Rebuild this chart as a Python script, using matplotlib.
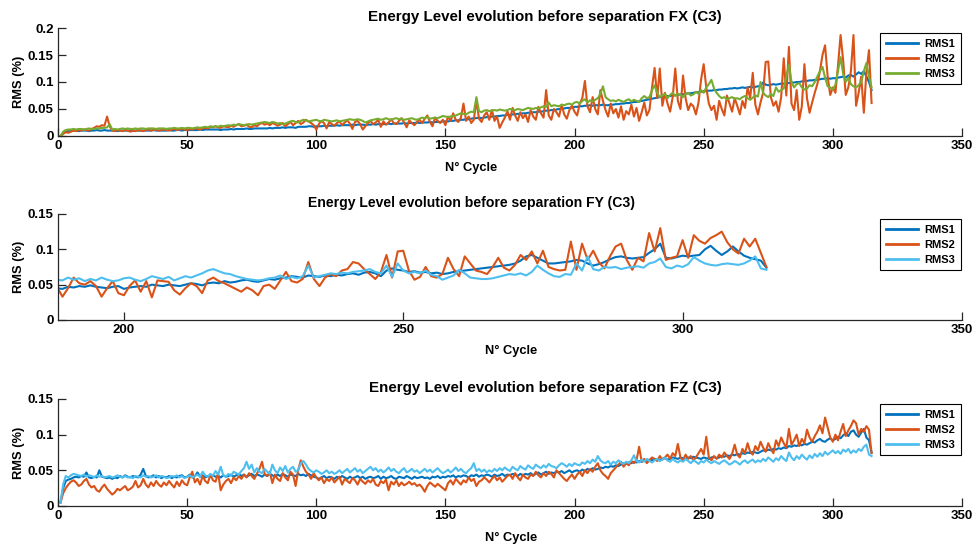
import numpy as np
import matplotlib
matplotlib.use("Agg")
from matplotlib import pyplot as plt
from matplotlib.ticker import FuncFormatter

plt.rcParams['font.family'] = ['Liberation Sans', 'DejaVu Sans']
plt.rcParams['font.weight'] = 'bold'

# values are in thousandths of a percent (x 0.001)

# ---- FX, cycles 1..315
fx_rms1 = [0, 5, 8, 9, 9, 10, 10, 9, 10, 10, 10, 9, 10, 10, 11, 10, 10, 11, 10, 10,
           10, 10, 9, 10, 10, 10, 10, 10, 9, 10, 10, 10, 10, 10, 10, 10, 11, 10, 10, 10,
           10, 10, 11, 10, 10, 11, 11, 10, 11, 11, 11, 11, 11, 11, 12, 11, 12, 12, 12, 12,
           12, 12, 11, 12, 12, 12, 13, 12, 13, 13, 13, 13, 14, 13, 13, 14, 14, 14, 14, 14,
           14, 15, 14, 15, 15, 15, 16, 15, 16, 16, 16, 15, 17, 17, 17, 17, 18, 18, 17, 18,
           18, 18, 19, 18, 19, 19, 19, 20, 19, 20, 20, 20, 20, 21, 20, 21, 21, 21, 20, 21,
           21, 22, 21, 22, 22, 22, 22, 23, 22, 23, 23, 23, 23, 24, 23, 24, 24, 24, 25, 24,
           25, 25, 25, 26, 25, 26, 26, 26, 27, 27, 27, 28, 28, 29, 29, 30, 30, 31, 31, 32,
           33, 33, 34, 33, 34, 35, 35, 36, 36, 37, 37, 38, 38, 39, 39, 40, 40, 41, 41, 42,
           42, 43, 43, 44, 44, 45, 45, 46, 47, 47, 48, 48, 49, 50, 50, 51, 52, 52, 53, 54,
           54, 55, 55, 56, 56, 57, 56, 57, 57, 57, 58, 57, 57, 58, 58, 59, 59, 60, 60, 61,
           61, 62, 63, 63, 64, 65, 66, 67, 68, 69, 70, 71, 72, 72, 73, 74, 74, 75, 76, 76,
           77, 77, 78, 79, 79, 80, 81, 81, 82, 83, 83, 84, 84, 85, 85, 86, 86, 87, 87, 88,
           88, 89, 88, 89, 90, 89, 90, 91, 90, 91, 92, 93, 99, 95, 94, 95, 96, 95, 96, 97,
           97, 98, 98, 99, 99, 100, 100, 101, 102, 102, 103, 103, 104, 104, 105, 106, 106, 107, 106, 107,
           107, 108, 109, 110, 108, 112, 113, 110, 114, 118, 115, 120, 110, 100, 85]
fx_rms2 = [0, 4, 7, 6, 8, 10, 9, 11, 10, 12, 11, 10, 13, 15, 18, 17, 20, 19, 36, 18,
           10, 9, 11, 10, 9, 11, 10, 8, 10, 9, 11, 10, 9, 11, 12, 10, 11, 12, 10, 11,
           12, 11, 10, 12, 13, 11, 12, 13, 12, 11, 13, 12, 14, 13, 12, 14, 15, 14, 17, 16,
           18, 16, 15, 18, 17, 16, 19, 17, 20, 22, 18, 19, 21, 17, 16, 20, 18, 22, 24, 21,
           23, 20, 24, 22, 19, 21, 24, 18, 22, 26, 20, 24, 28, 22, 25, 30, 27, 24, 20, 12,
           22, 28, 24, 14, 26, 22, 19, 24, 27, 20, 25, 29, 23, 13, 26, 28, 22, 12, 18, 24,
           28, 22, 25, 30, 17, 27, 21, 25, 31, 24, 22, 28, 33, 25, 16, 29, 24, 20, 26, 30,
           24, 32, 38, 26, 18, 34, 28, 24, 30, 20, 36, 28, 42, 30, 26, 34, 60, 28, 36, 24,
           30, 66, 32, 26, 38, 44, 30, 48, 28, 36, 15, 25, 34, 46, 30, 52, 38, 28, 44, 33,
           40, 26, 48, 36, 30, 54, 42, 34, 85, 38, 30, 50, 44, 36, 58, 40, 32, 48, 56, 45,
           38, 60, 70, 102, 55, 44, 72, 50, 40, 85, 65, 48, 36, 60, 42, 50, 34, 55, 30, 46,
           40, 58, 36, 52, 28, 44, 62, 38, 48, 90, 126, 70, 125, 56, 80, 60, 45, 72, 125, 65,
           50, 112, 70, 48, 60, 55, 40, 62, 105, 133, 90, 60, 48, 56, 30, 65, 50, 38, 75, 60,
           45, 70, 56, 40, 65, 52, 90, 70, 117, 58, 40, 62, 80, 137, 138, 72, 56, 64, 45, 72,
           144, 75, 165, 60, 48, 85, 30, 55, 133, 70, 43, 62, 80, 96, 120, 150, 168, 110, 76, 90,
           80, 130, 187, 140, 76, 90, 120, 187, 56, 80, 110, 43, 118, 159, 61]
fx_rms3 = [0, 8, 11, 12, 12, 13, 12, 13, 13, 12, 13, 14, 13, 13, 14, 14, 15, 15, 16, 22,
           12, 13, 12, 13, 14, 13, 14, 13, 13, 14, 13, 14, 14, 13, 14, 14, 14, 13, 14, 14,
           14, 13, 14, 14, 15, 14, 14, 15, 14, 15, 15, 14, 15, 16, 15, 16, 17, 16, 18, 17,
           18, 17, 19, 18, 19, 20, 19, 21, 20, 22, 21, 20, 21, 22, 21, 22, 23, 24, 25, 26,
           25, 24, 26, 25, 23, 24, 22, 23, 25, 27, 28, 26, 25, 28, 30, 29, 27, 28, 29, 30,
           28, 27, 30, 29, 28, 27, 28, 29, 27, 28, 29, 30, 31, 30, 30, 31, 30, 28, 25, 27,
           29, 30, 31, 32, 30, 31, 33, 31, 30, 32, 33, 31, 32, 30, 31, 32, 33, 31, 30, 32,
           34, 33, 35, 32, 33, 34, 33, 35, 37, 36, 35, 36, 37, 38, 40, 42, 41, 40, 43, 45,
           44, 72, 46, 44, 47, 48, 46, 47, 48, 47, 49, 48, 47, 48, 50, 49, 48, 50, 49, 48,
           50, 52, 51, 50, 52, 51, 53, 55, 54, 62, 55, 57, 56, 55, 58, 57, 59, 60, 58, 62,
           63, 60, 65, 68, 62, 66, 64, 67, 70, 78, 92, 72, 68, 65, 66, 64, 67, 65, 63, 66,
           68, 64, 67, 65, 63, 70, 74, 70, 72, 85, 94, 80, 72, 75, 78, 70, 76, 80, 74, 78,
           76, 72, 78, 80, 75, 77, 82, 78, 85, 80, 90, 96, 104, 88, 80, 74, 70, 72, 68, 70,
           72, 69, 70, 68, 72, 74, 70, 67, 71, 75, 73, 100, 80, 75, 72, 78, 74, 90, 82, 85,
           88, 110, 132, 100, 90, 96, 98, 90, 86, 88, 94, 92, 100, 110, 120, 128, 108, 92, 90, 86,
           95, 120, 146, 115, 100, 108, 96, 92, 90, 94, 100, 120, 135, 110, 90]

# ---- FY, cycles 187..315
fy_rms1 = [46, 45, 44, 47, 46, 48, 47, 49, 47, 46, 45, 47, 48, 44, 46, 47, 48, 47, 50, 49,
           48, 50, 49, 48, 50, 52, 51, 49, 52, 53, 52, 55, 53, 54, 56, 57, 55, 54, 56, 58,
           57, 59, 60, 62, 61, 60, 63, 62, 61, 63, 62, 64, 63, 65, 66, 64, 67, 68, 66, 62,
           70, 73, 71, 70, 68, 69, 67, 68, 66, 67, 65, 66, 68, 69, 70, 71, 72, 73, 74, 75,
           76, 77, 78, 80, 84, 90, 92, 88, 84, 80, 80, 81, 82, 83, 85, 84, 80, 77, 79, 82,
           86, 89, 90, 88, 87, 88, 89, 95, 100, 108, 88, 87, 89, 91, 90, 91, 92, 100, 105, 98,
           92, 97, 104, 97, 91, 88, 86, 84, 74]
fy_rms2 = [50, 47, 33, 45, 60, 52, 50, 55, 48, 33, 45, 55, 38, 35, 48, 56, 40, 55, 32, 56,
           55, 54, 42, 36, 45, 52, 48, 38, 56, 60, 55, 52, 48, 44, 40, 46, 42, 35, 48, 50,
           44, 56, 68, 55, 53, 58, 82, 58, 48, 60, 65, 62, 70, 72, 82, 80, 72, 65, 58, 68,
           92, 60, 97, 98, 70, 57, 61, 75, 62, 60, 65, 88, 72, 62, 90, 80, 70, 68, 65, 75,
           88, 74, 70, 78, 92, 85, 97, 80, 98, 75, 72, 70, 71, 111, 71, 108, 85, 98, 82, 73,
           90, 104, 108, 85, 71, 88, 83, 123, 97, 130, 85, 88, 90, 113, 88, 120, 112, 108, 116, 120,
           125, 110, 100, 94, 115, 104, 115, 95, 75]
fy_rms3 = [58, 57, 56, 60, 57, 59, 55, 58, 56, 60, 57, 55, 56, 59, 60, 57, 55, 58, 62, 60,
           58, 61, 56, 59, 62, 60, 63, 66, 70, 72, 69, 66, 65, 62, 60, 58, 57, 56, 57, 59,
           60, 63, 58, 61, 59, 62, 77, 60, 62, 64, 66, 65, 67, 66, 68, 69, 70, 72, 68, 66,
           77, 61, 80, 70, 66, 68, 66, 70, 64, 62, 57, 60, 63, 71, 66, 60, 59, 58, 58, 59,
           61, 63, 65, 64, 66, 63, 68, 77, 71, 66, 62, 61, 65, 64, 80, 70, 90, 72, 70, 75,
           74, 75, 72, 74, 75, 76, 74, 80, 82, 87, 75, 73, 77, 75, 79, 89, 84, 80, 78, 77,
           79, 80, 79, 78, 80, 84, 90, 73, 71]

# ---- FZ, cycles 1..315
fz_rms1 = [5, 25, 35, 37, 38, 40, 41, 40, 42, 41, 47, 40, 39, 41, 40, 50, 41, 40, 39, 40,
           38, 40, 39, 42, 40, 43, 41, 40, 42, 41, 40, 44, 52, 42, 40, 41, 43, 40, 42, 39,
           41, 40, 42, 39, 41, 40, 42, 43, 40, 41, 44, 40, 42, 47, 41, 43, 40, 42, 41, 43,
           41, 42, 40, 43, 41, 42, 44, 41, 43, 45, 42, 44, 41, 43, 45, 42, 44, 43, 41, 44,
           42, 45, 43, 41, 44, 42, 45, 43, 41, 44, 43, 42, 45, 43, 44, 42, 45, 43, 41, 40,
           38, 40, 42, 39, 41, 40, 38, 41, 39, 42, 40, 38, 41, 39, 40, 42, 39, 41, 38, 40,
           41, 39, 40, 42, 38, 41, 39, 40, 42, 39, 38, 41, 40, 39, 42, 40, 38, 41, 39, 40,
           41, 39, 40, 38, 41, 40, 42, 39, 41, 40, 42, 41, 43, 40, 42, 41, 43, 42, 40, 43,
           42, 44, 41, 43, 42, 44, 43, 41, 44, 42, 43, 45, 42, 44, 43, 45, 44, 42, 45, 43,
           45, 44, 46, 43, 45, 47, 44, 46, 48, 45, 47, 46, 48, 47, 49, 46, 48, 50, 47, 49,
           50, 48, 51, 49, 52, 50, 53, 51, 52, 54, 53, 55, 54, 56, 55, 57, 56, 58, 60, 59,
           61, 60, 62, 61, 63, 62, 64, 63, 65, 64, 66, 65, 64, 66, 67, 65, 66, 68, 67, 66,
           68, 67, 66, 68, 67, 69, 68, 67, 66, 68, 67, 66, 68, 69, 67, 68, 70, 69, 71, 70,
           72, 71, 73, 72, 74, 73, 75, 74, 76, 75, 74, 76, 78, 77, 79, 78, 80, 79, 81, 80,
           82, 81, 84, 83, 85, 84, 86, 85, 87, 86, 88, 90, 89, 92, 94, 91, 90, 93, 95, 92,
           94, 97, 95, 99, 102, 98, 104, 106, 100, 97, 103, 108, 96, 92, 75]
fz_rms2 = [5, 18, 25, 30, 34, 36, 33, 28, 30, 35, 38, 30, 26, 28, 22, 20, 26, 30, 24, 20,
           16, 19, 24, 22, 25, 28, 22, 24, 27, 35, 26, 29, 38, 30, 26, 33, 28, 35, 30, 27,
           33, 29, 35, 30, 26, 34, 28, 36, 31, 29, 40, 48, 33, 38, 30, 42, 35, 32, 44, 36,
           34, 46, 22, 30, 35, 38, 32, 40, 36, 42, 38, 44, 40, 46, 42, 38, 45, 52, 62, 45,
           42, 48, 32, 44, 38, 35, 46, 40, 36, 48, 44, 28, 50, 64, 55, 48, 44, 38, 46, 40,
           36, 40, 32, 38, 35, 40, 33, 37, 41, 30, 38, 35, 32, 39, 36, 30, 38, 34, 31, 36,
           33, 38, 30, 28, 35, 32, 37, 22, 34, 30, 36, 28, 33, 29, 31, 34, 30, 32, 28, 30,
           26, 20, 28, 33, 30, 27, 31, 28, 25, 22, 32, 36, 30, 38, 34, 30, 36, 33, 40, 35,
           38, 28, 34, 36, 40, 37, 33, 38, 42, 36, 40, 34, 38, 42, 44, 38, 46, 40, 36, 44,
           40, 38, 44, 42, 48, 43, 40, 46, 42, 48, 45, 40, 50, 46, 42, 38, 35, 40, 44, 38,
           44, 48, 42, 50, 46, 52, 48, 55, 60, 50, 45, 42, 38, 46, 50, 54, 58, 62, 55, 60,
           57, 63, 60, 64, 83, 62, 66, 60, 64, 68, 66, 63, 70, 65, 68, 72, 66, 74, 70, 87,
           68, 64, 72, 66, 70, 64, 68, 74, 80, 72, 97, 68, 64, 70, 66, 72, 68, 75, 70, 66,
           73, 86, 72, 68, 80, 74, 88, 76, 72, 84, 78, 90, 82, 76, 88, 80, 74, 92, 84, 96,
           88, 82, 108, 86, 92, 100, 84, 94, 88, 107, 96, 90, 98, 104, 113, 102, 124, 110, 96, 90,
           100, 92, 104, 115, 98, 106, 112, 120, 116, 100, 108, 104, 112, 107, 74]
fz_rms3 = [5, 30, 42, 40, 43, 45, 44, 43, 42, 44, 41, 43, 42, 40, 43, 41, 42, 40, 41, 42,
           40, 41, 43, 41, 40, 42, 40, 41, 39, 42, 41, 40, 43, 41, 42, 40, 41, 43, 40, 42,
           41, 39, 40, 42, 41, 43, 40, 42, 39, 41, 43, 40, 42, 44, 41, 48, 43, 41, 45, 42,
           49, 44, 55, 43, 41, 45, 42, 48, 46, 44, 49, 53, 62, 52, 58, 47, 53, 48, 46, 52,
           48, 45, 58, 50, 46, 54, 49, 56, 47, 52, 55, 48, 50, 60, 63, 58, 52, 49, 47, 50,
           48, 45, 47, 50, 46, 48, 45, 47, 50, 46, 49, 52, 47, 50, 53, 48, 51, 46, 49, 52,
           55, 50, 53, 48, 51, 47, 50, 54, 49, 52, 48, 46, 50, 53, 47, 49, 52, 48, 50, 46,
           49, 52, 48, 51, 47, 50, 53, 49, 46, 48, 51, 47, 50, 54, 49, 52, 48, 46, 50, 53,
           60, 49, 52, 48, 51, 47, 50, 48, 52, 49, 53, 50, 54, 51, 49, 55, 52, 50, 56, 53,
           51, 57, 54, 52, 58, 55, 53, 57, 54, 59, 56, 55, 53, 57, 60, 58, 55, 59, 56, 60,
           58, 57, 61, 59, 63, 60, 65, 62, 70, 64, 61, 60, 63, 58, 62, 60, 64, 61, 59, 62,
           60, 64, 71, 63, 61, 65, 62, 66, 63, 61, 64, 66, 63, 65, 68, 64, 62, 66, 63, 61,
           64, 62, 66, 63, 60, 64, 62, 59, 63, 61, 65, 62, 60, 63, 61, 59, 62, 64, 61, 58,
           60, 63, 61, 58, 62, 64, 60, 63, 65, 61, 64, 62, 66, 63, 68, 65, 62, 67, 64, 70,
           66, 63, 75, 68, 64, 70, 66, 72, 68, 65, 71, 67, 73, 69, 74, 70, 76, 72, 75, 78,
           74, 77, 73, 79, 76, 80, 74, 78, 75, 80, 77, 83, 86, 72, 70]

panels = [
    ("Energy Level evolution before separation FX (C3)", 1,
     [fx_rms1, fx_rms2, fx_rms3], ['#0072BD', '#D95319', '#77AC30'],
     (0, 350), [0, 50, 100, 150, 200, 250, 300, 350], (0, 0.2), [0, 0.05, 0.1, 0.15, 0.2],
     [0.0593, 0.7514, 0.9243, 0.1974], 0.539, 10.9, 0.457, 7),
    ("Energy Level evolution before separation FY (C3)", 187,
     [fy_rms1, fy_rms2, fy_rms3], ['#0072BD', '#D95319', '#4DBEEE'],
     (188.2, 350), [200, 250, 300, 350], (0, 0.15), [0, 0.05, 0.1, 0.15],
     [0.0593, 0.415, 0.9243, 0.1938], 0.457, 10.1, 0.501, 6),
    ("Energy Level evolution before separation FZ (C3)", 1,
     [fz_rms1, fz_rms2, fz_rms3], ['#0072BD', '#D95319', '#4DBEEE'],
     (0, 350), [0, 50, 100, 150, 200, 250, 300, 350], (0, 0.15), [0, 0.05, 0.1, 0.15],
     [0.0593, 0.075, 0.9243, 0.1956], 0.539, 10.9, 0.501, 7),
]
labels = ['RMS1', 'RMS2', 'RMS3']

fig = plt.figure(figsize=(9.78, 5.47), dpi=100)
axcol = '#262626'
for title, start, series, colors, xl, xt, yl, yt, pos, tx, tsize, lx, lpad in panels:
    ax = fig.add_axes(pos)
    for vals, c, lab in zip(series, colors, labels):
        x = np.arange(start, start + len(vals))
        ax.plot(x, np.array(vals) / 1000.0, color=c, lw=1.5, label=lab)
    ax.set_xlim(*xl)
    ax.set_ylim(*yl)
    ax.set_xticks(xt)
    ax.set_yticks(yt)
    ax.yaxis.set_major_formatter(FuncFormatter(lambda v, p: '%g' % v))
    ax.spines['top'].set_visible(False)
    ax.spines['right'].set_visible(False)
    for s in ['left', 'bottom']:
        ax.spines[s].set_color(axcol)
        ax.spines[s].set_linewidth(0.9)
    ax.tick_params(direction='in', length=6, width=0.9, color=axcol,
                   labelsize=9.5, labelcolor='black', pad=3)
    ax.set_title(title, fontsize=tsize, fontweight='bold', x=tx, pad=5)
    ax.set_xlabel('N° Cycle', fontsize=9.3, fontweight='bold', labelpad=lpad)
    ax.xaxis.label.set_x(lx)
    ax.set_ylabel('RMS (%)', fontsize=9.3, fontweight='bold', labelpad=2)
    hpx = pos[3] * 547
    leg = ax.legend(loc='upper right', bbox_to_anchor=(1 - 1.0 / 904, 1 - 5.0 / hpx),
                    fontsize=8, frameon=True, fancybox=False,
                    edgecolor='black', framealpha=1, handlelength=2.9,
                    borderaxespad=0, borderpad=0.5, labelspacing=0.45,
                    handletextpad=0.6)
    leg.get_frame().set_linewidth(0.8)
    for line in leg.get_lines():
        line.set_linewidth(2)

fig.savefig('out.png', dpi=100)
